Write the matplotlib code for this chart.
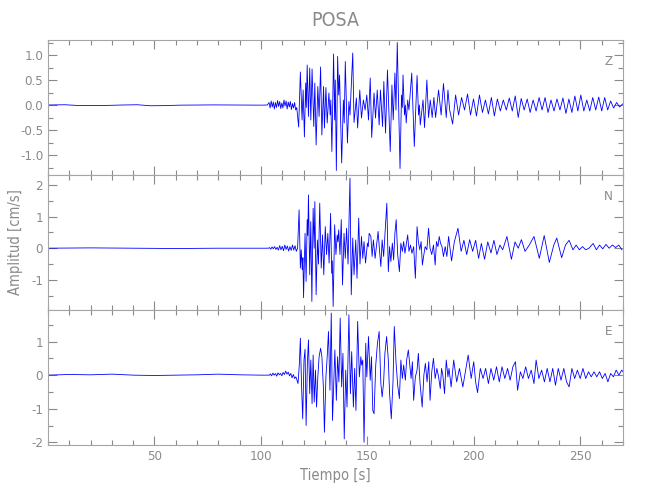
import matplotlib

matplotlib.use("Agg")
import matplotlib.pyplot as plt
from matplotlib.ticker import FixedLocator, MultipleLocator, FormatStrFormatter

plt.rcParams["font.family"] = ["DejaVu Sans"]
plt.rcParams["font.stretch"] = "condensed"
plt.rcParams["font.weight"] = "light"
plt.rcParams["axes.unicode_minus"] = False

GRAY = "#8a8a8a"
TRACE = "#0000ff"

# --- station / labels --------------------------------------------------------
station = "POSA"
components = ["Z", "N", "E"]
xlabel = "Tiempo [s]"
ylabel = "Amplitud [cm/s]"
xticks = [50, 100, 150, 200, 250]

# --- Z component (time s, amplitude cm/s) ------------------------------------
z_t = [0, 8, 15, 22, 28, 35, 42, 48, 55, 62, 70, 78, 86, 94, 100, 103,
       103.8, 104.3, 104.8, 105.3, 105.8, 106.3, 106.8, 107.3, 107.8, 108.3,
       108.8, 109.3, 109.8, 110.3, 110.8, 111.3, 111.8, 112.3, 112.8, 113.3,
       113.8, 114.3, 114.8, 115.3, 115.8, 116.3, 116.8,
       117.7, 118.5, 119.3, 119.8, 120.4, 121.0, 121.3, 121.7, 122.3, 122.9,
       123.4, 124.0, 124.8, 125.3, 125.9, 126.7, 127.3, 128.0, 128.6, 129.4,
       129.8, 130.5, 131.1, 131.9, 132.5, 132.8, 133.3, 134.1, 134.6, 134.9,
       135.4, 136.0, 136.5, 136.9, 137.9, 138.7, 139.1, 139.6, 140.6, 141.3,
       141.8, 143.1, 143.7, 144.8, 145.4, 146.4, 147.2, 148.1, 148.9, 149.7,
       150.5, 151.3, 152.0, 153.1, 153.8, 154.6, 155.5, 156.1, 157.1, 157.7,
       158.5, 159.4, 160.7, 161.5, 162.1, 162.9, 163.4, 164.0, 165.3, 166.0,
       166.4, 166.7, 167.4, 167.8, 168.2, 168.9, 169.5, 170.8, 172.0, 173.3,
       174.0, 174.4, 174.8, 176.1, 176.8, 177.9, 178.7, 179.5, 180.4, 181.2,
       182.0, 183.4, 184.6, 185.7, 187.0, 187.8,
       188.6, 190.0, 191.4, 192.8, 194.2, 195.6, 197.0, 198.4, 199.8, 201.2,
       202.6, 204.0, 205.4, 206.8, 208.2, 209.6, 211.0, 212.4, 213.8, 215.2,
       216.6, 218.0, 219.4, 220.8, 222.2, 223.6, 225.0, 226.4, 227.8, 229.2,
       230.6, 232.0, 233.4, 234.8, 236.2, 237.6, 239.0, 240.4, 241.8, 243.2,
       244.6, 246.0, 247.4, 248.8, 250.2, 251.6, 253.0, 254.4, 255.8, 257.2,
       258.6, 260.0, 261.4, 262.8, 264.2, 265.6, 267.0, 268.4, 269.8]
z_a = [0, 0.005, -0.012, -0.01, -0.008, 0.0, 0.005, -0.015, -0.012, -0.003,
       0.0, 0.002, 0.0, 0.0, -0.003, 0.0,
       0.05, -0.06, 0.08, -0.04, 0.06, -0.08, 0.05, -0.05, 0.09, -0.03,
       0.07, -0.07, 0.04, -0.06, 0.1, -0.02, 0.08, -0.08, 0.06, -0.04,
       0.07, -0.09, 0.03, -0.06, 0.05, -0.1, -0.05,
       -0.44, 0.66, -0.3, 0.3, -0.64, 0.44, -0.05, 0.8, -0.23, 0.74,
       -0.3, 0.72, -0.43, 0.44, -0.8, 0.37, -0.23, 0.76, -0.6, 0.37,
       -0.46, 0.35, -0.36, 0.24, -0.2, 0.1, -0.93, 1.02, -0.3, 0.5,
       -1.31, 0.97, 0.2, 0.6, -1.16, 0.1, -0.36, 0.87, -0.76, 0.07,
       -0.2, 1.04, -0.35, 0.14, -0.46, 0.3, -0.26, 0.1, -0.1, 0.2,
       -0.3, 0.54, -0.65, 0.24, -0.26, 0.3, -0.4, 0.3, -0.43, 0.47,
       -0.56, 0.7, -0.93, 0.4, -0.3, 0.64, -0.1, 1.25, -1.27, 0.2,
       -0.05, 0.6, -0.2, 0.0, -0.36, 0.1, -0.1, 0.64, -0.83, 0.59,
       -0.2, 0.0, -0.4, 0.1, -0.45, 0.5, -0.25, 0.1, -0.25, 0.15,
       -0.25, 0.3, -0.2, 0.43, -0.25, 0.3,
       -0.1, -0.38, 0.2, -0.2, 0.15, -0.1, 0.22, -0.2, 0.12, -0.22,
       0.2, -0.15, 0.1, -0.18, 0.15, -0.22, 0.12, -0.12, 0.1, -0.1,
       0.14, -0.12, 0.18, -0.25, 0.13, -0.1, 0.12, -0.15, 0.1, -0.12,
       0.15, -0.1, 0.15, -0.15, 0.1, -0.12, 0.12, -0.1, 0.14, -0.17,
       0.12, -0.15, 0.18, -0.12, 0.2, -0.12, 0.1, -0.12, 0.15, -0.1,
       0.16, -0.12, 0.15, -0.1, 0.08, -0.06, 0.05, -0.04, 0.02]

# --- N component ---------------------------------------------------------------
n_t = [0, 20, 40, 60, 80, 100, 103.5,
       104.0, 104.6, 105.2, 105.8, 106.4, 107.0, 107.6, 108.2, 108.8, 109.4,
       110.0, 110.6, 111.2, 111.8, 112.4, 113.0, 113.6, 114.2, 114.8, 115.4,
       116.0, 116.6, 117.2,
       117.9, 118.5, 118.9, 119.4, 119.7, 120.0, 120.7, 121.2, 121.7, 122.0,
       122.3, 122.9, 123.4, 123.9, 124.5, 125.0, 125.3, 125.9, 126.5, 127.0,
       127.6, 128.3, 128.9, 129.5, 130.2, 130.8, 131.4, 132.0, 132.7, 133.2,
       133.5, 133.9, 134.6, 135.2, 135.8, 136.15, 136.5, 137.1, 137.7, 138.3,
       139.0, 139.6, 140.2, 140.9, 141.8, 142.4, 143.1, 143.7, 144.5, 145.1,
       145.9, 146.5, 147.2, 147.8, 148.4, 149.1, 150.0, 150.4, 150.8, 151.6,
       152.2, 152.8, 153.6, 154.4, 155.0, 155.7, 156.3, 156.9, 157.6, 158.3,
       159.1, 159.8, 160.4, 161.0, 161.7, 162.3, 162.9, 163.5, 164.2, 165.0,
       165.7, 166.4, 167.0, 167.6, 168.3, 168.9, 169.5, 170.2, 170.9, 171.7,
       172.5, 173.3, 173.9, 174.6, 175.2, 175.8, 176.5, 177.1, 177.9, 178.7,
       179.4, 180.2, 181.0, 181.8, 182.4, 183.1, 183.7, 184.3, 185.0, 185.7,
       186.5, 187.3, 188.1,
       189.5, 190.8, 192.5, 194.0, 195.3, 196.6, 198.0, 199.4, 200.8, 202.2,
       203.5, 205.0, 206.5, 208.0, 209.4, 210.8, 212.2, 213.5, 215.5, 217.6,
       219.3, 220.8, 222.3, 224.0, 226.0, 228.2, 230.7, 233.0, 235.4, 237.5,
       238.9, 241.2, 243.0, 244.7, 246.5, 248.0, 249.5, 251.0, 252.5, 254.0,
       256.0, 257.5, 259.0, 260.5, 262.0, 263.5, 265.0, 266.5, 268.0, 269.5]
n_a = [0, 0.01, 0, -0.01, 0, 0, 0,
       0.02, -0.03, 0.04, -0.02, 0.05, -0.04, 0.03, -0.06, 0.08, -0.05,
       0.06, -0.08, 0.1, -0.04, 0.07, -0.09, 0.05, -0.07, 0.1, -0.06,
       0.08, -0.1, 0.0,
       1.21, -0.63, -0.05, -0.68, -0.3, -1.56, 0.47, -1.05, 0.9, 0.4,
       1.68, -0.84, 0.84, -1.68, 1.26, 0.0, 1.47, -1.47, 0.26, -0.5,
       1.42, -0.63, 0.42, -0.84, 0.68, -0.2, 0.47, -0.47, 1.1, -0.79,
       -0.4, -1.84, 0.74, -0.2, 0.42, 0.2, 0.58, -0.2, 0.9, -1.16,
       0.47, -0.32, 0.63, -0.5, 2.21, -1.47, 0.32, -0.84, 0.26, -0.95,
       0.95, -0.5, 0.37, -0.32, 0.21, -0.47, 0.16, 0.05, 0.47, 0.37,
       -0.26, 0.26, -0.32, 0.16, 0.53, -0.1, -0.58, 0.26, -0.26, 0.53,
       1.42, -0.74, 0.05, -0.42, 0.16, -0.37, 0.47, 0.9, -0.2, -0.74,
       0.16, -0.1, 0.21, -0.16, 0.16, 0.42, -0.1, 0.1, -0.16, 0.05,
       -0.95, 0.68, 0.21, -0.05, 0.21, -0.53, -0.2, 0.05, -0.05, 0.63,
       0.0, -0.2, 0.1, -0.53, 0.21, 0.05, 0.37, 0.16, 0.05, -0.26,
       0.05, -0.26, 0.37,
       -0.4, 0.2, 0.63, -0.1, 0.25, -0.2, 0.27, -0.1, 0.25, -0.32,
       0.15, -0.35, 0.2, -0.15, 0.25, -0.2, 0.1, -0.05, 0.37, -0.35,
       0.2, 0.0, 0.27, -0.1, 0.1, 0.37, -0.32, 0.4, -0.45, 0.1,
       0.32, -0.3, 0.1, 0.25, -0.05, 0.1, -0.05, 0.05, -0.05, 0.0,
       0.15, -0.05, 0.1, -0.02, 0.12, 0.0, 0.1, 0.02, 0.1, -0.05]

# --- E component ---------------------------------------------------------------
e_t = [0, 10, 20, 30, 40, 50, 60, 70, 80, 90, 100, 104,
       104.4, 105.0, 105.6, 106.2, 106.8, 107.4, 108.0, 108.6, 109.2, 109.8,
       110.4, 111.0, 111.6, 112.2, 112.8, 113.4, 114.0, 114.6, 115.2, 115.8,
       116.4, 116.9,
       117.4, 118.0, 118.5, 119.1, 119.6, 120.2, 120.7, 121.2, 121.8, 122.3,
       122.9, 123.4, 124.0, 124.5, 125.0, 125.6, 126.1, 126.7, 127.3, 128.0,
       128.6, 129.3, 129.8, 130.5, 131.1, 131.7, 132.4, 133.0, 133.6, 134.3,
       134.7, 135.4, 136.0, 136.6, 137.2, 137.9, 138.5, 139.1, 139.8, 140.4,
       141.3, 142.0, 142.6, 143.4, 144.0, 144.6, 145.4, 146.2, 146.9, 147.3,
       147.8, 148.4, 149.2, 149.7, 150.5, 151.3, 151.9, 152.5, 153.1, 153.9,
       154.7, 155.5, 156.3, 156.9, 157.6, 158.2, 159.0, 159.8, 160.4, 161.2,
       162.0, 162.6, 163.4, 164.2, 165.0, 165.7, 166.4, 167.0, 167.8, 168.4,
       169.2, 169.8, 170.5, 171.1, 171.7, 172.5, 173.3, 173.9, 174.7, 175.7,
       176.5, 177.2, 178.0, 178.8, 179.4, 180.2, 181.0, 181.8, 182.6, 183.4,
       184.2, 184.8, 185.4, 186.2, 187.0, 187.8, 188.3,
       189.3, 190.5, 191.9, 193.2, 194.8, 196.0, 197.3, 198.7, 199.9, 200.8,
       201.7, 203.0, 204.3, 205.5, 206.8, 208.0, 209.3, 210.6, 211.9, 213.2,
       214.5, 215.8, 217.0, 218.3, 219.5, 220.5, 221.8, 223.0, 224.3, 225.6,
       226.9, 228.2, 229.2, 230.5, 231.8, 233.1, 234.4, 235.7, 237.0, 238.3,
       239.6, 240.9, 242.2, 243.5, 244.7, 246.0, 247.3, 248.6, 249.9, 251.2,
       252.5, 253.8, 255.1, 256.4, 257.7, 259.0, 260.3, 261.6, 262.9, 264.2,
       265.5, 266.8, 268.1, 269.4, 270.0]
e_a = [0, 0.02, 0.01, 0.03, 0.0, -0.01, 0.0, 0.01, 0.03, 0.01, 0.0, 0.0,
       0.04, -0.02, 0.06, 0.0, 0.05, -0.03, 0.07, 0.01, 0.05, -0.02,
       0.08, 0.02, 0.12, 0.03, 0.09, -0.02, 0.05, -0.08, 0.02, -0.1,
       -0.05, -0.15,
       -0.25, 0.3, 1.1, -0.4, -1.3, 0.45, 0.77, -1.5, 0.35, 1.05,
       -0.55, 0.45, -0.85, 0.6, -0.8, 0.15, -0.95, -0.05, 0.55, 0.8,
       0.55, -0.35, -1.7, -0.05, 0.55, 1.3, -0.45, 1.85, -1.35, -0.05,
       0.75, -0.75, 0.55, -0.2, 1.7, -0.35, 0.65, -1.9, 0.15, -0.95,
       1.8, -0.55, 0.7, -0.95, 0.2, -1.05, 1.6, -0.05, 0.55, 0.3,
       0.45, -2.0, 0.95, -0.05, 1.15, -0.15, 0.55, -1.05, -1.15, 0.3,
       0.95, 1.3, -0.25, -0.65, -0.2, 0.65, 1.15, 0.45, -0.55, -1.3,
       -0.2, 1.45, 0.4, -0.3, -0.7, 0.45, -0.1, 0.3, -0.15, 0.45,
       0.75, 0.35, -0.1, 0.4, -0.75, -0.05, 0.15, 0.65, -0.25, -0.95,
       0.0, 0.35, -0.2, 0.4, -0.75, 0.1, 0.5, -0.1, 0.2, -0.05,
       -0.4, 0.2, 0.0, -0.55, 0.45, -0.05, 0.2,
       -0.35, 0.45, -0.2, 0.2, -0.35, 0.1, 0.6, -0.1, 0.4, -0.2,
       -0.52, 0.2, -0.1, 0.2, -0.25, 0.2, -0.15, 0.25, -0.2, 0.25,
       -0.1, 0.2, -0.15, 0.25, 0.4, -0.45, 0.1, -0.1, 0.25, -0.1,
       0.15, -0.25, 0.45, -0.1, 0.15, -0.2, 0.2, -0.2, 0.2, -0.3,
       0.2, -0.15, 0.2, -0.2, -0.35, 0.2, -0.1, 0.15, -0.1, 0.2,
       -0.1, 0.1, -0.05, 0.1, -0.05, 0.1, -0.1, 0.05, -0.2, 0.05,
       -0.05, 0.15, 0.0, 0.15, 0.1]

traces = [(z_t, z_a), (n_t, n_a), (e_t, e_a)]
ylims = [(-1.40, 1.30), (-1.95, 2.31), (-2.08, 1.94)]
ymajor = [0.5, 1.0, 1.0]
yminor = [0.25, 0.5, 0.5]
yfmt = ["%.1f", "%d", "%d"]

fig = plt.figure(figsize=(6.5, 5.0), dpi=100)
left, width, height = 48 / 650, 575 / 650, 135 / 500
bottoms = [1 - 175 / 500, 1 - 310 / 500, 1 - 445 / 500]

axes = []
for i, (t, a) in enumerate(traces):
    ax = fig.add_axes([left, bottoms[i], width, height])
    ax.plot(t, a, color=TRACE, lw=0.6)
    ax.set_xlim(0, 270)
    ax.set_ylim(*ylims[i])
    ax.xaxis.set_major_locator(FixedLocator(xticks))
    ax.xaxis.set_minor_locator(MultipleLocator(10))
    ax.yaxis.set_major_locator(MultipleLocator(ymajor[i]))
    ax.yaxis.set_minor_locator(MultipleLocator(yminor[i]))
    ax.yaxis.set_major_formatter(FormatStrFormatter(yfmt[i]))
    ax.tick_params(which="both", direction="in", top=True, right=True,
                   colors=GRAY, labelsize=9.5, width=0.8)
    ax.tick_params(which="major", length=6.5)
    ax.tick_params(which="minor", length=3.5)
    for sp in ax.spines.values():
        sp.set_color("#a5a5a5")
        sp.set_linewidth(0.8)
    if i < 2:
        ax.tick_params(labelbottom=False)
    ax.text(0.975, 0.84, components[i], transform=ax.transAxes,
            ha="center", va="center", color=GRAY, fontsize=9.5)
    axes.append(ax)

axes[2].set_xlabel(xlabel, color=GRAY, fontsize=10.5, labelpad=4)
axes[1].set_ylabel(ylabel, color=GRAY, fontsize=10.5, labelpad=6)
fig.text(left + width / 2, 1 - 20 / 500, station, ha="center", va="center",
         color=GRAY, fontsize=14)

fig.savefig("out.png", dpi=100)
